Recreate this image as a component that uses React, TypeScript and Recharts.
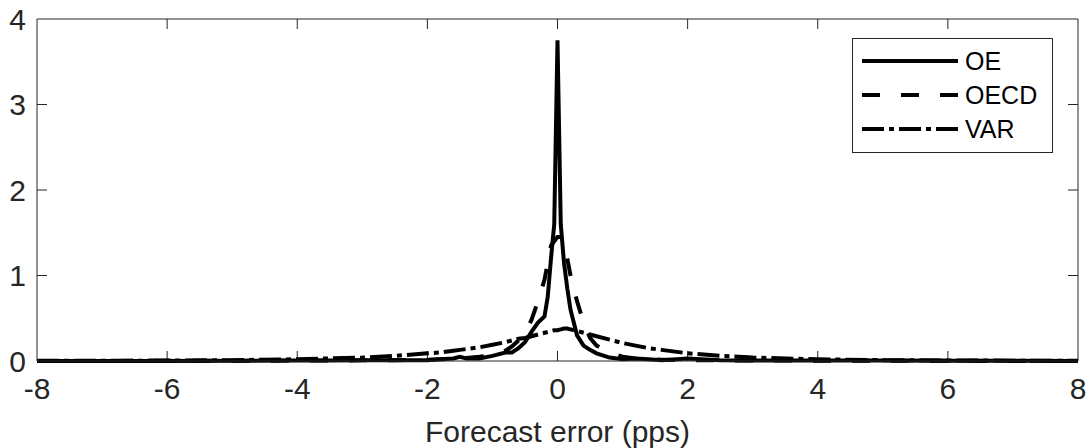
import { LineChart, Line, XAxis, YAxis, ReferenceLine, Legend } from "recharts";

// forecast error grid (pps)
const errs = [
  -8, -7, -6, -5, -4, -3.5, -3, -2.5, -2, -1.8, -1.6, -1.5, -1.4, -1.2, -1,
  -0.8, -0.7, -0.6, -0.5, -0.4, -0.3, -0.2, -0.15, -0.1, -0.05, 0, 0.05, 0.1,
  0.15, 0.2, 0.3, 0.4, 0.5, 0.6, 0.8, 1, 1.2, 1.4, 1.6, 2, 2.5, 3, 4, 5, 6, 7, 8,
];

// density estimates
const oeDensity = [
  0, 0, 0, 0.002, 0.005, 0.005, 0.01, 0.008, 0.01, 0.02, 0.03, 0.05, 0.03, 0.03, 0.06,
  0.1, 0.1, 0.15, 0.22, 0.34, 0.45, 0.52, 0.75, 1.2, 1.6, 3.75, 1.6, 1.15,
  0.85, 0.6, 0.3, 0.18, 0.13, 0.09, 0.04, 0.02, 0.03, 0.02, 0.01, 0.03, 0.01, 0.005, 0.005, 0.005, 0.003, 0.002, 0,
];
const oecdDensity = [
  0, 0.001, 0.002, 0.003, 0.005, 0.006, 0.008, 0.01, 0.015, 0.02, 0.025, 0.03, 0.035, 0.05, 0.07,
  0.12, 0.17, 0.24, 0.32, 0.48, 0.7, 0.95, 1.15, 1.35, 1.4, 1.45, 1.45, 1.35,
  1.2, 1.0, 0.7, 0.45, 0.27, 0.18, 0.1, 0.05, 0.03, 0.02, 0.015, 0.01, 0.008, 0.006, 0.004, 0.003, 0.002, 0.001, 0,
];
const varDensity = [
  0.002, 0.003, 0.005, 0.01, 0.02, 0.03, 0.04, 0.06, 0.09, 0.1, 0.12, 0.13, 0.14, 0.16, 0.19,
  0.22, 0.24, 0.26, 0.27, 0.29, 0.31, 0.33, 0.34, 0.35, 0.36, 0.36, 0.37, 0.38,
  0.38, 0.37, 0.35, 0.33, 0.31, 0.29, 0.25, 0.21, 0.18, 0.15, 0.13, 0.09, 0.06, 0.04, 0.02, 0.01, 0.006, 0.004, 0.002,
];

const xTicks = [-8, -6, -4, -2, 0, 2, 4, 6, 8];
const yTicks = [0, 1, 2, 3, 4];

const data = errs.map((x, i) => ({
  x,
  oe: oeDensity[i],
  oecd: oecdDensity[i],
  var: varDensity[i],
}));

const series = [
  { key: "oe", name: "OE", dash: undefined },
  { key: "oecd", name: "OECD", dash: "18 21" },
  { key: "var", name: "VAR", dash: "22 5 5 5" },
];

const AXIS = "#262626";
const FONT = '"Liberation Sans", Arial, Helvetica, sans-serif';

// plot box is 1041 x 342 px; ticks are 10px long, pointing inward
const tickX = 10 / (1041 / 16);
const tickY = 10 / (342 / 4);

const XTick = ({ x, y, payload }: any) => (
  <text x={x} y={y + 38} textAnchor="middle" fill={AXIS} fontSize={30} fontFamily={FONT}>
    {payload.value}
  </text>
);

const YTick = ({ x, y, payload }: any) => (
  <text x={x - 11} y={y} dy="0.36em" textAnchor="end" fill={AXIS} fontSize={30} fontFamily={FONT}>
    {payload.value}
  </text>
);

const LegendBox = () => (
  <svg width={202} height={116} style={{ display: "block" }}>
    <rect x={0.5} y={0.5} width={200} height={114} fill="#fff" stroke={AXIS} />
    {series.map((s, i) => {
      const cy = 23 + i * 34;
      return (
        <g key={s.key}>
          <line x1={10} x2={106} y1={cy} y2={cy} stroke="#000" strokeWidth={4} strokeDasharray={s.dash} />
          <text x={113} y={cy} dy="0.36em" fontSize={25} fontFamily={FONT} fill="#000">
            {s.name}
          </text>
        </g>
      );
    })}
  </svg>
);

export default function App() {
  return (
    <div style={{ position: "absolute", left: 0, top: 0, background: "#fff" }}>
      <LineChart width={1086} height={448} data={data} margin={{ top: 19, right: 8, bottom: 0, left: 0 }}>
        <XAxis
          dataKey="x"
          type="number"
          domain={[-8, 8]}
          ticks={xTicks}
          tick={XTick}
          tickLine={false}
          tickSize={0}
          tickMargin={0}
          height={87}
          axisLine={{ stroke: AXIS }}
          label={{ value: "Forecast error (pps)", position: "insideBottom", offset: 6, fill: AXIS, fontSize: 30, fontFamily: FONT }}
        />
        <YAxis
          type="number"
          domain={[0, 4]}
          ticks={yTicks}
          tick={YTick}
          tickLine={false}
          tickSize={0}
          tickMargin={0}
          width={37}
          axisLine={{ stroke: AXIS }}
        />
        <ReferenceLine y={4} stroke={AXIS} />
        <ReferenceLine x={8} stroke={AXIS} />
        {xTicks.slice(1, -1).map((t) => (
          <ReferenceLine key={"b" + t} segment={[{ x: t, y: 0 }, { x: t, y: tickY }]} stroke={AXIS} />
        ))}
        {xTicks.slice(1, -1).map((t) => (
          <ReferenceLine key={"t" + t} segment={[{ x: t, y: 4 }, { x: t, y: 4 - tickY }]} stroke={AXIS} />
        ))}
        {yTicks.slice(1, -1).map((t) => (
          <ReferenceLine key={"l" + t} segment={[{ x: -8, y: t }, { x: -8 + tickX, y: t }]} stroke={AXIS} />
        ))}
        {yTicks.slice(1, -1).map((t) => (
          <ReferenceLine key={"r" + t} segment={[{ x: 8, y: t }, { x: 8 - tickX, y: t }]} stroke={AXIS} />
        ))}
        {series.map((s) => (
          <Line
            key={s.key}
            type="linear"
            dataKey={s.key}
            name={s.name}
            stroke="#000"
            strokeWidth={4}
            strokeDasharray={s.dash}
            dot={false}
            activeDot={false}
            isAnimationActive={false}
          />
        ))}
        <Legend
          layout="horizontal"
          verticalAlign="middle"
          align="center"
          wrapperStyle={{ left: 852, top: 38, width: 202, height: 116 }}
          content={LegendBox}
        />
      </LineChart>
    </div>
  );
}
